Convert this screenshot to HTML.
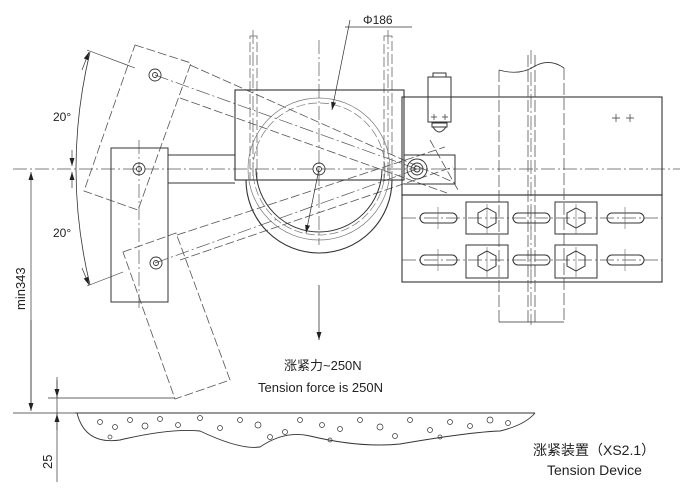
<!DOCTYPE html>
<html><head><meta charset="utf-8"><style>
html,body{margin:0;padding:0;background:#fff;}
svg{display:block}
text{font-family:"Liberation Sans","Noto Sans CJK SC",sans-serif;fill:#222;}
</style></head><body>
<svg width="700" height="497" viewBox="0 0 700 497" xmlns="http://www.w3.org/2000/svg">
<defs>
<marker id="ar" markerWidth="8" markerHeight="6" refX="8" refY="3" orient="auto" markerUnits="userSpaceOnUse"><path d="M0,0.5 L8,3 L0,5.5z" fill="#222"/></marker>
</defs>
<g fill="none" stroke="#333" stroke-width="1">
<g stroke="#555" stroke-width="0.7" stroke-dasharray="14,3,2,3">
<line x1="13" y1="169" x2="680" y2="169"/>
<line x1="319" y1="40" x2="319" y2="245"/>
<line x1="139" y1="140" x2="139" y2="310"/>
<line x1="155" y1="75" x2="417" y2="169"/>
<line x1="155" y1="263" x2="417" y2="169"/>
<line x1="402" y1="218" x2="662" y2="218"/>
<line x1="402" y1="260" x2="662" y2="260"/>
<line x1="531" y1="50" x2="531" y2="325"/>
<line x1="253" y1="30" x2="253" y2="180"/>
<line x1="388" y1="30" x2="388" y2="180"/>
</g>
<line x1="319" y1="285" x2="319" y2="340" marker-end="url(#ar)" stroke-width="0.8"/>
<rect x="250" y="36" width="7" height="144" stroke="#666" stroke-dasharray="10,3" stroke-width="0.8"/>
<rect x="384" y="36" width="8" height="144" stroke="#666" stroke-dasharray="10,3" stroke-width="0.8"/>
<g stroke="#555" stroke-width="0.8" stroke-dasharray="9,3">
<polygon points="135,45 191,63 138,210 84,191"/>
<polygon points="123,252 176,233 230,380 175,399"/>
<line x1="190" y1="65" x2="453" y2="182"/>
<line x1="180" y1="98" x2="447" y2="193"/>
<line x1="177" y1="235" x2="445" y2="147"/>
<line x1="180" y1="260" x2="453" y2="167"/>
<line x1="430" y1="140" x2="458" y2="190"/>
</g>
<rect x="111" y="148" width="57" height="154"/>
<line x1="168" y1="155" x2="235" y2="155"/>
<line x1="168" y1="183" x2="235" y2="183"/>
<rect x="235" y="90" width="169" height="90" stroke-width="1.1"/>
<path d="M246,180 A73,73 0 0 0 392,180" stroke-width="1.1"/>
<circle cx="319" cy="169" r="71" stroke="#777" stroke-width="0.7"/>
<circle cx="319" cy="169" r="66" stroke="#777" stroke-width="0.7" stroke-dasharray="9,3"/>
<path d="M256,169 A63,63 0 0 0 382,169" stroke-width="1"/>
<line x1="345" y1="27" x2="412" y2="27" stroke-width="0.7"/>
<line x1="350" y1="20" x2="332" y2="110" stroke-width="0.7" marker-end="url(#ar)"/>
<line x1="319" y1="169" x2="306" y2="233" stroke-width="0.7" marker-end="url(#ar)"/>
<g stroke-width="0.9">
<circle cx="139" cy="169" r="6"/><circle cx="139" cy="169" r="2.5"/>
<circle cx="155" cy="75" r="6"/><circle cx="155" cy="75" r="2.5"/>
<circle cx="156" cy="263" r="6"/><circle cx="156" cy="263" r="2.5"/>
<circle cx="319" cy="169" r="6"/><circle cx="319" cy="169" r="2.5"/>
<circle cx="417" cy="169" r="10"/><circle cx="417" cy="169" r="6"/><circle cx="417" cy="169" r="3"/>
</g>
<path d="M404,155 H455 V184 H404"/>
<rect x="428" y="77" width="23" height="45"/>
<rect x="433" y="73" width="13" height="4"/>
<path d="M432,123 h15 v4 h-15z M433,127 q6,10 13,0"/>
<g stroke-width="0.7"><path d="M431,117h6M434,114v6M442,117h6M445,114v6"/></g>
<rect x="402" y="97" width="260" height="98" stroke-width="1.1"/>
<rect x="402" y="195" width="260" height="87" stroke-width="1.1"/>
<g stroke-width="0.7"><path d="M612,118h8M616,114v8M626,118h8M630,114v8"/></g>
<g stroke="#555" stroke-width="0.8" stroke-dasharray="12,3">
<line x1="499" y1="70" x2="499" y2="322"/>
<line x1="564" y1="68" x2="564" y2="322"/>
<line x1="528" y1="55" x2="528" y2="322"/>
<line x1="535" y1="55" x2="535" y2="322"/>
</g>
<path d="M499,70 Q520,76 535,66 Q550,58 564,68" stroke-width="0.8"/>
<line x1="499" y1="322" x2="564" y2="322" stroke-width="0.8"/>
<g stroke-width="1">
<rect x="420" y="213" width="37" height="10" rx="5"/>
<rect x="513" y="213" width="37" height="10" rx="5"/>
<rect x="607" y="213" width="37" height="10" rx="5"/>
<rect x="420" y="255" width="37" height="10" rx="5"/>
<rect x="513" y="255" width="37" height="10" rx="5"/>
<rect x="607" y="255" width="37" height="10" rx="5"/>
<rect x="466" y="202" width="42" height="32"/>
<rect x="555" y="202" width="42" height="32"/>
<rect x="466" y="245" width="42" height="33"/>
<rect x="555" y="245" width="42" height="33"/>
<polygon points="487,208 496,213 496,223 487,228 478,223 478,213"/>
<polygon points="576,208 585,213 585,223 576,228 567,223 567,213"/>
<polygon points="487,251 496,256 496,266 487,271 478,266 478,256"/>
<polygon points="576,251 585,256 585,266 576,271 567,266 567,256"/>
</g>
<g stroke="#666" stroke-width="0.6"><path d="M438,207v22M531,207v22M625,207v22M438,249v22M531,249v22M625,249v22M487,204v30M576,204v30M487,247v30M576,247v30"/></g>
<path d="M90,52 Q62,169 90,285" stroke-width="0.8"/>
<line x1="72" y1="150" x2="72" y2="166" marker-end="url(#ar)" stroke-width="0.7"/>
<line x1="72" y1="188" x2="72" y2="172" marker-end="url(#ar)" stroke-width="0.7"/>
<line x1="82" y1="70" x2="89" y2="52" marker-end="url(#ar)" stroke-width="0.7"/>
<line x1="82" y1="268" x2="89" y2="285" marker-end="url(#ar)" stroke-width="0.7"/>
<line x1="87" y1="50" x2="135" y2="68" stroke-width="0.6"/>
<line x1="87" y1="286" x2="123" y2="272" stroke-width="0.6"/>
<line x1="31" y1="410" x2="31" y2="172" marker-end="url(#ar)" stroke-width="0.7"/>
<line x1="31" y1="320" x2="31" y2="411" marker-end="url(#ar)" stroke-width="0.7"/>
<line x1="13" y1="413" x2="75" y2="413" stroke-width="0.8"/>
<line x1="75" y1="413" x2="535" y2="413" stroke-width="1"/>
<line x1="48" y1="398" x2="175" y2="398" stroke-width="0.7"/>
<line x1="57" y1="377" x2="57" y2="482" stroke-width="0.7"/>
<line x1="57" y1="380" x2="57" y2="397" marker-end="url(#ar)" stroke-width="0.7"/>
<line x1="57" y1="430" x2="57" y2="414" marker-end="url(#ar)" stroke-width="0.7"/>
<path d="M77,413 Q85,445 120,440 Q170,428 200,431 Q240,450 260,447 Q285,430 310,436 Q360,448 400,444 Q470,432 500,431 Q525,425 535,413" stroke-width="0.9"/>
<g stroke-width="0.7">
<circle cx="100" cy="422" r="2.5"/><circle cx="115" cy="427" r="2.5"/><circle cx="130" cy="420" r="2.5"/><circle cx="145" cy="426" r="3"/><circle cx="160" cy="419" r="2.5"/><circle cx="178" cy="425" r="2.5"/><circle cx="200" cy="418" r="2.5"/><circle cx="220" cy="428" r="2.5"/><circle cx="240" cy="420" r="2.5"/><circle cx="258" cy="425" r="3"/><circle cx="270" cy="437" r="2.5"/><circle cx="285" cy="432" r="2.5"/><circle cx="300" cy="420" r="2.5"/><circle cx="322" cy="425" r="2.5"/><circle cx="340" cy="429" r="2.5"/><circle cx="360" cy="420" r="2.5"/><circle cx="380" cy="427" r="3"/><circle cx="395" cy="436" r="2.5"/><circle cx="410" cy="420" r="2.5"/><circle cx="430" cy="430" r="2.5"/><circle cx="450" cy="422" r="2.5"/><circle cx="470" cy="426" r="2.5"/><circle cx="490" cy="420" r="3"/><circle cx="508" cy="423" r="2.5"/><circle cx="110" cy="437" r="2"/><circle cx="330" cy="440" r="2"/><circle cx="440" cy="437" r="2"/>
</g>
</g>
<g font-size="12">
<text x="363" y="24">Φ186</text>
<text x="53" y="121">20°</text>
<text x="53" y="237">20°</text>
<text transform="translate(52,469) rotate(-90)" font-size="13">25</text>
<text transform="translate(25,310) rotate(-90)" font-size="13">min343</text>
<text x="284" y="370" font-size="13">涨紧力~250N</text>
<text x="258" y="392" font-size="13">Tension force is 250N</text>
<text x="533" y="455" font-size="14">涨紧装置（XS2.1）</text>
<text x="547" y="475" font-size="14">Tension Device</text>
</g>
</svg>
</body></html>
